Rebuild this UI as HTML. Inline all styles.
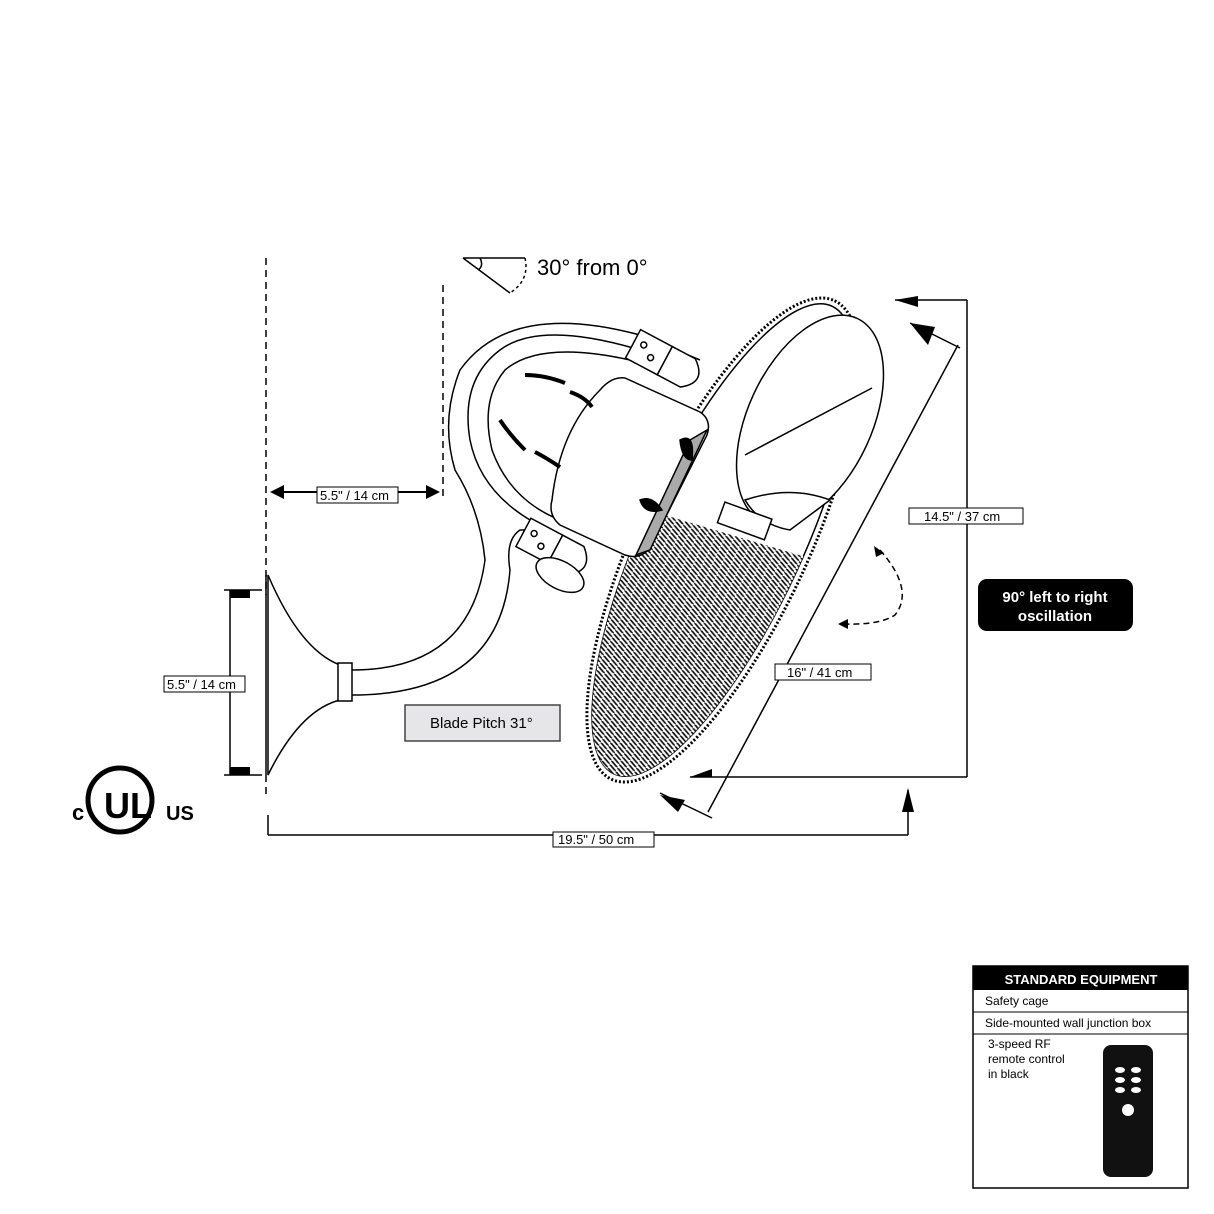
<!DOCTYPE html>
<html><head><meta charset="utf-8"><style>
html,body{margin:0;padding:0;background:#fff;}
svg{display:block;font-family:"Liberation Sans",sans-serif;}
</style></head><body>
<svg width="1214" height="1214" viewBox="0 0 1214 1214" xmlns="http://www.w3.org/2000/svg">
<defs>
<pattern id="grill" x="0" y="0" width="4" height="8.58" patternUnits="userSpaceOnUse">
<rect width="4" height="8.58" fill="#fff"/>
<path d="M4.5,-1.07 L-0.5,9.65" stroke="#111" stroke-width="1.7"/>
</pattern>
<clipPath id="lowcage"><polygon points="500,466 950,600 950,900 500,900"/></clipPath>
</defs>
<g fill="none" stroke="#000" stroke-width="1.5">
<line x1="266" y1="258" x2="266" y2="595" stroke-dasharray="7,5"/>
<line x1="443" y1="285" x2="443" y2="500" stroke-dasharray="7,5"/>
<line x1="266" y1="775" x2="266" y2="795" stroke-dasharray="7,5"/>
<path d="M463,258 L525,258 M463,258 L510,293" />
<path d="M525,258 Q530,280 510,293" stroke-dasharray="3,3"/>
<path d="M480,258 Q484,266 478,270"/>
<line x1="272" y1="492" x2="438" y2="492" stroke-width="2"/>
<path d="M268,575 Q300,650 340,665 L340,700 Q300,710 268,775 Z" fill="#fff"/>
<line x1="266" y1="575" x2="266" y2="775"/>
<rect x="338" y="663" width="14" height="38" fill="#fff"/>
<line x1="230" y1="590" x2="230" y2="775"/>
<line x1="224" y1="590" x2="262" y2="590"/><line x1="224" y1="775" x2="262" y2="775"/>
<path d="M352,670 Q470,670 485,560 Q480,510 455,470 Q440,420 460,370 Q510,300 640,335 L700,360"/>
<path d="M352,695 Q500,695 510,570 Q505,540 520,530 L540,530"/>
<path d="M640,350 Q540,320 500,350 Q460,380 470,440 Q480,490 530,520"/>
<path d="M630,360 Q540,340 505,370 Q480,400 492,450 Q510,500 560,520"/>
<g transform="rotate(28 655 360)"><rect x="628" y="340" width="36" height="32" fill="#fff"/><circle cx="638" cy="352" r="3"/><circle cx="650" cy="360" r="3"/><path d="M664,340 L690,340 Q712,356 690,372 L664,372 Z" fill="#fff"/></g>
<g transform="rotate(28 545 545)"><rect x="520" y="528" width="36" height="32" fill="#fff"/><circle cx="530" cy="540" r="3"/><circle cx="542" cy="548" r="3"/><path d="M556,528 L580,528 Q600,545 580,560 L556,560 Z" fill="#fff"/></g>
<ellipse cx="560" cy="575" rx="26" ry="14" transform="rotate(28 560 575)" fill="#fff"/>
<ellipse cx="723" cy="540" rx="264" ry="86" transform="rotate(-65 723 540)" fill="#fff" stroke-dasharray="2,2" stroke-width="3"/>
<ellipse cx="723" cy="540" rx="258" ry="80" transform="rotate(-65 723 540)" fill="#fff"/>
<g clip-path="url(#lowcage)">
<path d="M723,540 m-109,234 a258,80 0 0 1 0,0" />
<ellipse cx="723" cy="540" rx="258" ry="80" transform="rotate(-65 723 540)" fill="url(#grill)" stroke="none"/>
</g>
<ellipse cx="810" cy="420" rx="62" ry="112" transform="rotate(25 810 420)" fill="#fff"/>
<line x1="872" y1="388" x2="745" y2="455"/>
<path d="M745,500 Q790,485 830,500 L790,530 Q760,525 745,500 Z" fill="#fff"/>
<rect x="720" y="510" width="50" height="22" transform="rotate(20 745 520)" fill="#fff"/>
<path d="M625,378 L700,412 Q712,420 707,435 L650,548 Q640,560 625,555 L560,525 Q548,515 552,500 Q560,430 600,390 Q612,376 625,378 Z" fill="#fff"/>
<path d="M707,430 L650,550 L636,555 L690,440 Z" fill="#aaa"/>
<path d="M680,440 q15,-8 12,20 q-10,0 -12,-20Z M640,500 q5,15 22,10 q-10,-15 -22,-10Z" fill="#000"/>
<path d="M525,375 q20,0 40,8 M570,392 q15,5 22,15 M500,420 q10,15 25,30 M535,452 q10,5 25,15" stroke-width="4"/>
<line x1="895" y1="300" x2="967" y2="300"/><line x1="967" y1="300" x2="967" y2="777"/><line x1="690" y1="777" x2="967" y2="777"/>
<line x1="958" y1="345" x2="708" y2="812"/>
<line x1="910" y1="323" x2="960" y2="348"/><line x1="660" y1="793" x2="712" y2="818"/>
<line x1="268" y1="835" x2="908" y2="835"/><line x1="268" y1="815" x2="268" y2="835"/><line x1="908" y1="790" x2="908" y2="835"/>
<path d="M880,550 Q915,590 895,615 Q880,625 845,624" stroke-dasharray="6,4"/>
</g>
<g fill="#000">
<polygon points="270,492 284,485 284,499"/><polygon points="440,492 426,485 426,499"/>
<polygon points="230,590 250,590 250,598 230,598"/><polygon points="230,775 250,775 250,767 230,767"/>
<polygon points="895,300 918,296 918,307"/><polygon points="690,777 712,769 712,777"/>
<polygon points="910,323 935,327 928,345"/><polygon points="660,795 685,800 678,812"/>
<polygon points="908,788 902,812 914,812"/>
<polygon points="874,546 884,553 876,557"/><polygon points="838,624 848,619 848,629"/>
</g>
<text x="537" y="275" font-size="22">30° from 0°</text>
<g font-size="13" fill="#000">
<rect x="317" y="487" width="81" height="16" fill="#fff" stroke="#000"/><text x="320" y="500">5.5" / 14 cm</text>
<rect x="164" y="676" width="81" height="16" fill="#fff" stroke="#000"/><text x="167" y="689">5.5" / 14 cm</text>
<rect x="553" y="832" width="101" height="15" fill="#fff" stroke="#000"/><text x="558" y="844">19.5" / 50 cm</text>
<rect x="909" y="508" width="114" height="16" fill="#fff" stroke="#000"/><text x="924" y="521">14.5" / 37 cm</text>
<rect x="775" y="664" width="96" height="16" fill="#fff" stroke="#000"/><text x="787" y="677">16" / 41 cm</text>
</g>
<rect x="405" y="705" width="155" height="36" fill="#e6e6e9" stroke="#444" stroke-width="1.5"/>
<text x="430" y="728" font-size="15">Blade Pitch 31°</text>
<rect x="978" y="579" width="155" height="52" rx="9" fill="#000"/>
<text x="1055" y="602" font-size="15" fill="#fff" text-anchor="middle" font-weight="bold">90° left to right</text>
<text x="1055" y="621" font-size="15" fill="#fff" text-anchor="middle" font-weight="bold">oscillation</text>
<circle cx="120" cy="800" r="32" fill="none" stroke="#000" stroke-width="5"/>
<text x="104" y="818" font-size="36" font-weight="bold">UL</text>
<text x="72" y="820" font-size="22" font-weight="bold">c</text>
<text x="166" y="820" font-size="20" font-weight="bold">US</text>
<rect x="973" y="966" width="215" height="222" fill="#fff" stroke="#000" stroke-width="1.5"/>
<rect x="973" y="966" width="215" height="24" fill="#000"/>
<text x="1081" y="984" font-size="13" fill="#fff" text-anchor="middle" font-weight="bold">STANDARD EQUIPMENT</text>
<line x1="973" y1="1012" x2="1188" y2="1012" stroke="#000"/><line x1="973" y1="1034" x2="1188" y2="1034" stroke="#000"/>
<g font-size="12"><text x="985" y="1005">Safety cage</text><text x="985" y="1027">Side-mounted wall junction box</text>
<text x="988" y="1048">3-speed RF</text><text x="988" y="1063">remote control</text><text x="988" y="1078">in black</text></g>
<rect x="1103" y="1045" width="50" height="132" rx="8" fill="#111"/>
<g fill="#fff"><ellipse cx="1120" cy="1070" rx="5" ry="3"/><ellipse cx="1136" cy="1070" rx="5" ry="3"/><ellipse cx="1120" cy="1080" rx="5" ry="3"/><ellipse cx="1136" cy="1080" rx="5" ry="3"/><ellipse cx="1120" cy="1090" rx="5" ry="3"/><ellipse cx="1136" cy="1090" rx="5" ry="3"/><circle cx="1128" cy="1110" r="6"/></g>
</svg>
</body></html>
